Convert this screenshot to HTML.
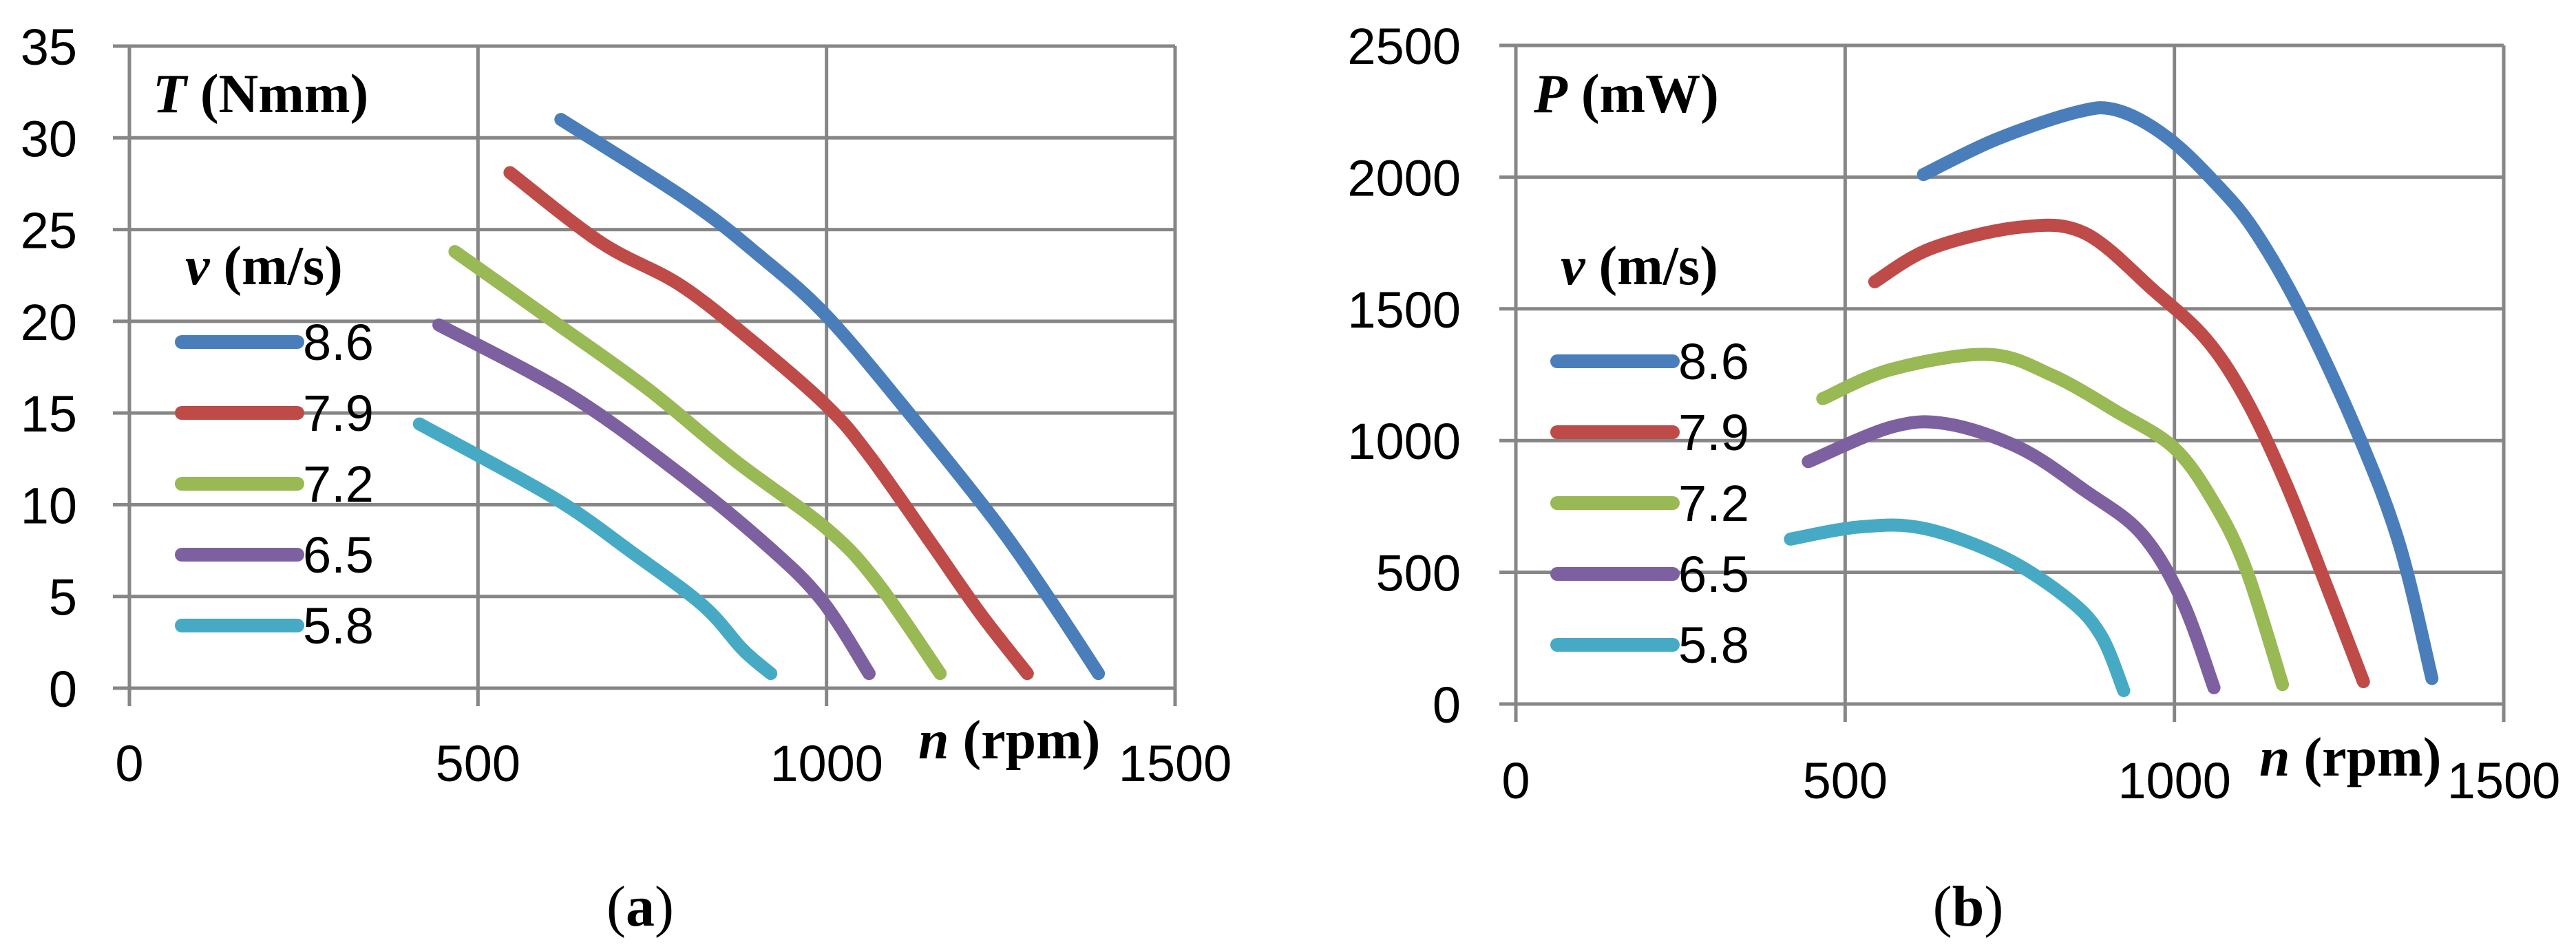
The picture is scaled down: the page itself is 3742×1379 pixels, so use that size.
<!DOCTYPE html>
<html><head><meta charset="utf-8"><style>
html,body{margin:0;padding:0;background:#fff;}
svg{display:block;}
.tick{font-family:"Liberation Sans",sans-serif;font-size:74px;fill:#000;}
.ttl{font-family:"Liberation Serif",serif;font-size:80px;font-weight:bold;fill:#000;}
.cap{font-family:"Liberation Serif",serif;font-size:84px;fill:#000;}
</style></head><body>
<svg id="fig" width="3742" height="1379" viewBox="0 0 3742 1379" xmlns="http://www.w3.org/2000/svg"></svg>
<script>
const seriesNames = ["8.6","7.9","7.2","6.5","5.8"];
const seriesColors = ["#4a7ebb","#be4b48","#98b954","#7d60a0","#46aac5"];
const xTicks = [0,500,1000,1500];
const yTicksA = [0,5,10,15,20,25,30,35];
const yTicksB = [0,500,1000,1500,2000,2500];
// chart (a): torque T (Nmm) vs n (rpm)
const aN86 = [619,801,903,1000,1118,1242,1321,1390];
const aT86 = [31.0,26.6,23.6,20.3,15.0,9.1,4.8,0.8];
const aN79 = [546,676,789,891,1000,1061,1152,1220,1288];
const aT79 = [28.1,24.3,22.0,19.0,15.4,12.7,7.8,4.1,0.8];
const aN72 = [467,608,744,869,1000,1072,1163];
const aT72 = [23.8,20.0,16.3,12.4,8.7,5.8,0.8];
const aN65 = [444,631,789,914,993,1061];
const aT65 = [19.8,16.0,11.7,7.8,4.8,0.8];
const aN58 = [416,608,721,823,880,920];
const aT58 = [14.4,10.4,7.4,4.5,2.1,0.8];
// chart (b): power P (mW) vs n (rpm)
const bN86 = [619,729,852,913,987,1060,1121,1195,1280,1342,1391];
const bP86 = [2010,2143,2247,2254,2155,1983,1799,1477,1017,603,97];
const bN79 = [545,631,766,864,969,1048,1109,1170,1232,1287];
const bP79 = [1603,1730,1810,1787,1569,1385,1155,833,442,85];
const bN72 = [466,570,717,815,913,1000,1060,1109,1164];
const bP72 = [1159,1270,1327,1247,1109,971,764,511,74];
const bN65 = [444,570,656,766,864,949,1011,1060];
const bP65 = [920,1051,1063,971,810,649,396,62];
const bN58 = [417,521,619,741,840,889,923];
const bP58 = [626,672,667,557,396,258,51];

const NS="http://www.w3.org/2000/svg";
const svg=document.getElementById('fig');
function mk(tag,attrs,parent){const e=document.createElementNS(NS,tag);for(const k in attrs)e.setAttribute(k,attrs[k]);(parent||svg).appendChild(e);return e;}
function smooth(pts){
  let d="M"+pts[0][0].toFixed(1)+","+pts[0][1].toFixed(1);
  for(let i=0;i<pts.length-1;i++){
    const p0=pts[Math.max(i-1,0)],p1=pts[i],p2=pts[i+1],p3=pts[Math.min(i+2,pts.length-1)];
    const c1=[p1[0]+(p2[0]-p0[0])/6,p1[1]+(p2[1]-p0[1])/6];
    const c2=[p2[0]-(p3[0]-p1[0])/6,p2[1]-(p3[1]-p1[1])/6];
    d+=" C"+c1[0].toFixed(1)+","+c1[1].toFixed(1)+" "+c2[0].toFixed(1)+","+c2[1].toFixed(1)+" "+p2[0].toFixed(1)+","+p2[1].toFixed(1);
  }
  return d;
}
function chart(cfg){
  const g=mk('g',{});
  
  
  const X=v=>cfg.x0+(v-0)/1500*(cfg.x1-cfg.x0);
  const Y=v=>cfg.y0-(v/cfg.ymax)*(cfg.y0-cfg.y1);
  const grid=mk('g',{stroke:'#868686','stroke-width':5},g);
  
  
  cfg.yTicks.forEach(t=>{
    const l=mk('line',{x1:cfg.x0-24,x2:cfg.x1,y1:Y(t),y2:Y(t)},grid);
    
    
    const tx=mk('text',{x:cfg.yLabelRight,y:Y(t)+27,'text-anchor':'end','class':'tick'},g);
    tx.textContent=t;
    
    
  });
  xTicks.forEach(t=>{
    const l=mk('line',{x1:X(t),x2:X(t),y1:cfg.y1,y2:cfg.y0+26},grid);
    
    
    const tx=mk('text',{x:X(t),y:cfg.xLabelBase,'text-anchor':'middle','class':'tick'},g);
    tx.textContent=t;
    
    
  });
  cfg.series.forEach((s,i)=>{
    const pts=s[0].map((n,k)=>[X(n),Y(s[1][k])]);
    const p=mk('path',{d:smooth(pts),fill:'none',stroke:seriesColors[i],'stroke-width':19,'stroke-linecap':'round','stroke-linejoin':'round'},g);
    
    
  });
  // title
  const t=mk('text',{x:cfg.titleX,y:163,'class':'ttl'},g);
  t.innerHTML='<tspan font-style="italic">'+cfg.sym+'</tspan> '+cfg.unit;
  
  
  // legend
  const lg=mk('g',{},g);
  
  
  const lt=mk('text',{x:cfg.legX+15,y:cfg.legTitleY,'class':'ttl'},lg);
  lt.innerHTML='<tspan font-style="italic">v</tspan> (m/s)';
  
  
  seriesNames.forEach((nm,i)=>{
    const y=cfg.legY0+i*cfg.legDy;
    const l=mk('line',{x1:cfg.legX+10,x2:cfg.legX+178,y1:y,y2:y,stroke:seriesColors[i],'stroke-width':20,'stroke-linecap':'round'},lg);
    
    
    const tx=mk('text',{x:cfg.legX+186,y:y+26,'class':'tick'},lg);
    tx.textContent=nm;
    
    
  });
  const xt=mk('text',{x:cfg.nX,y:cfg.nY,'class':'ttl'},g);
  xt.innerHTML='<tspan font-style="italic">n</tspan> (rpm)';
  
  
  const cp=mk('text',{x:cfg.capX,y:1345,'text-anchor':'middle','class':'cap'},g);
  cp.innerHTML='(<tspan font-weight="bold">'+cfg.cap+'</tspan>)';
  
  
}
chart({name:'torque-chart',x0:188,x1:1707,y0:1000,y1:67,ymax:35,yTicks:yTicksA,yLabelRight:112,xLabelBase:1135,
  series:[[aN86,aT86],[aN79,aT79],[aN72,aT72],[aN65,aT65],[aN58,aT58]],
  sym:'T',unit:'(Nmm)',titleX:222,legX:254,legTitleY:413,legY0:497,legDy:103,nX:1334,nY:1102,capX:930,cap:'a'});
chart({name:'power-chart',x0:2202,x1:3637,y0:1023,y1:66,ymax:2500,yTicks:yTicksB,yLabelRight:2122,xLabelBase:1160,
  series:[[bN86,bP86],[bN79,bP79],[bN72,bP72],[bN65,bP65],[bN58,bP58]],
  sym:'P',unit:'(mW)',titleX:2228,legX:2252,legTitleY:413,legY0:525,legDy:103,nX:3282,nY:1127,capX:2859,cap:'b'});
</script>
</body></html>
